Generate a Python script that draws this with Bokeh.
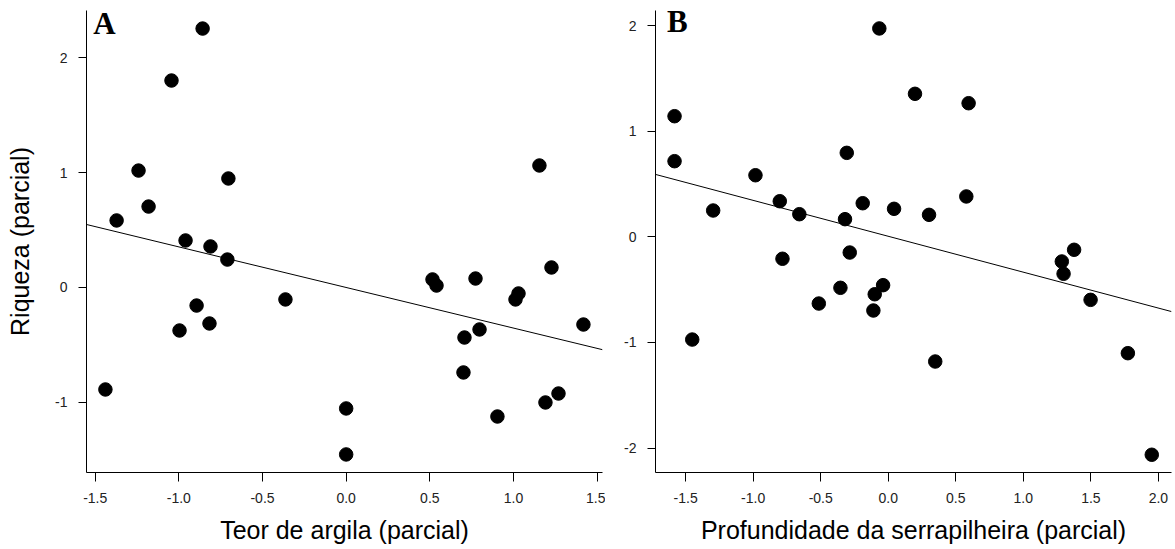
from bokeh.plotting import figure
from bokeh.layouts import row
from bokeh.models import FixedTicker, Label, Range1d
from bokeh.embed import file_html
from bokeh.resources import INLINE

# Panel A: clay content (partial) vs richness (partial)
argila_x = [-1.439, -1.372, -1.241, -1.181, -1.044, -0.858, -0.996, -0.960, -0.894, -0.811,
            -0.817, -0.704, -0.710, -0.363, 0.000, 0.000, 0.516, 0.540, 0.773, 0.707,
            0.797, 0.701, 0.904, 1.012, 1.030, 1.155, 1.227, 1.418, 1.191, 1.269]
argila_y = [-0.887, 0.583, 1.017, 0.704, 1.800, 2.252, -0.374, 0.409, -0.157, 0.357,
            -0.313, 0.948, 0.243, -0.104, -1.052, -1.452, 0.070, 0.017, 0.078, -0.435,
            -0.365, -0.739, -1.122, -0.104, -0.052, 1.061, 0.174, -0.322, -1.000, -0.922]
fit_a = (-0.353, 0.000)  # slope, intercept

# Panel B: litter depth (partial) vs richness (partial)
serra_x = [-0.066, -1.582, -1.582, -0.983, -1.296, -0.803, -0.658, -0.307, -0.320, -0.189,
           0.043, -0.783, -0.285, 0.198, 0.595, 0.578, 0.302, 1.376, 1.285, 1.298,
           -0.354, -0.514, -0.100, -0.038, -0.110, -1.451, 1.498, 0.348, 1.774, 1.951]
serra_y = [1.973, 1.142, 0.716, 0.583, 0.249, 0.337, 0.214, 0.795, 0.167, 0.318,
           0.265, -0.208, -0.149, 1.354, 1.265, 0.382, 0.208, -0.123, -0.234, -0.350,
           -0.483, -0.632, -0.544, -0.458, -0.698, -0.973, -0.597, -1.181, -1.102, -2.064]
fit_b = (-0.340, 0.005)

xticks_a = [-1.5, -1.0, -0.5, 0.0, 0.5, 1.0, 1.5]
xlabels_a = ["-1.5", "-1.0", "-0.5", "0.0", "0.5", "1.0", "1.5"]
yticks_a = [-1, 0, 1, 2]
ylabels_a = ["-1", "0", "1", "2"]
xticks_b = [-1.5, -1.0, -0.5, 0.0, 0.5, 1.0, 1.5, 2.0]
xlabels_b = ["-1.5", "-1.0", "-0.5", "0.0", "0.5", "1.0", "1.5", "2.0"]
yticks_b = [-2, -1, 0, 1, 2]
ylabels_b = ["-2", "-1", "0", "1", "2"]

SANS = "Liberation Sans"
SERIF = "Liberation Serif"


def panel(xs, ys, fit, xr, yr, xt, xl, yt, yl, xtitle, ytitle, letter, letter_pos,
          width, border_left, border_right):
    p = figure(width=width, height=549, output_backend="svg", toolbar_location=None,
               x_range=Range1d(*xr), y_range=Range1d(*yr),
               min_border_left=border_left, min_border_right=border_right,
               min_border_top=10, min_border_bottom=77)
    p.outline_line_color = None
    p.xgrid.visible = False
    p.ygrid.visible = False
    p.background_fill_color = "white"
    p.border_fill_color = "white"

    for ax, ticks, labels in ((p.xaxis[0], xt, xl), (p.yaxis[0], yt, yl)):
        ax.ticker = FixedTicker(ticks=ticks)
        ax.major_label_overrides = {t: s for t, s in zip(ticks, labels)}
        ax.minor_tick_line_color = None
        ax.major_tick_in = 0
        ax.axis_line_color = "black"
        ax.axis_line_width = 1
        ax.major_tick_line_color = "black"
        ax.major_label_text_font = SANS
        ax.major_label_text_font_size = "14px"
        ax.major_label_text_color = "#222222"
        ax.axis_label_text_font = SANS
        ax.axis_label_text_font_size = "25px"
        ax.axis_label_text_font_style = "normal"
        ax.axis_label_text_color = "black"

    p.xaxis[0].major_tick_out = 9
    p.xaxis[0].major_label_standoff = 11
    p.xaxis[0].axis_label = xtitle
    p.xaxis[0].axis_label_standoff = 10
    p.yaxis[0].major_tick_out = 8
    p.yaxis[0].major_label_standoff = 11
    if ytitle:
        p.yaxis[0].axis_label = ytitle
        p.yaxis[0].axis_label_standoff = 18

    # fitted partial regression line across the full x range
    slope, intercept = fit
    lx = [xr[0], xr[1]]
    ly = [slope * v + intercept for v in lx]
    p.line(lx, ly, line_color="black", line_width=1)

    p.scatter(xs, ys, size=13.5, fill_color="black", line_color="black")

    # panel letter in the upper-left corner
    p.add_layout(Label(x=letter_pos[0], y=letter_pos[1], text=letter,
                       text_font=SERIF, text_font_style="bold",
                       text_font_size="31px", text_color="black",
                       text_baseline="alphabetic", text_align="left"))
    return p


pa = panel(argila_x, argila_y, fit_a, (-1.552, 1.532), (-1.609, 2.409),
           xticks_a, xlabels_a, yticks_a, ylabels_a,
           "Teor de argila (parcial)", "Riqueza (parcial)", "A", (-1.512, 2.293),
           605, 86, 3)
pb = panel(serra_x, serra_y, fit_b, (-1.723, 2.097), (-2.232, 2.143),
           xticks_b, xlabels_b, yticks_b, ylabels_b,
           "Profundidade da serrapilheira (parcial)", None, "B", (-1.638, 2.042),
           570, 50, 4)

layout = row(pa, pb)
open("out.html", "w").write(file_html(layout, INLINE))
